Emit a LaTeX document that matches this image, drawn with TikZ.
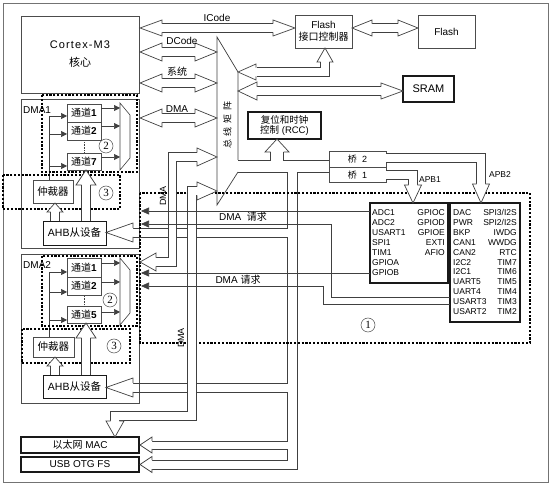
\documentclass[tikz,border=0pt]{standalone}
\usepackage{fontspec}
\setmainfont{Liberation Sans}
\newfontfamily\cjk{Noto Sans CJK SC}
\newfontfamily\numfont{Liberation Serif}
\usetikzlibrary{arrows.meta}
\newcommand{\fsz}[1]{\fontsize{#1}{#1}\selectfont}
% hollow bus head: x, y, angle, length, half width, half band
\newcommand{\bushead}[6]{%
  \begin{scope}[shift={(#1,#2)}, rotate=#3]
    \fill[white] (0,0) -- (-#4,#5) -- (-#4,-#5) -- cycle;
    \draw[wire, line width=0.7pt] (-#4,#6) -- (-#4,#5) -- (0,0) -- (-#4,-#5) -- (-#4,-#6);
  \end{scope}}
\tikzset{
  box/.style={draw=black!70, line width=0.6pt, inner sep=0pt, align=center},
  tbox/.style={box, draw=black!90, line width=1.3pt},
  wire/.style={draw=black!75, line width=0.6pt},
  bus/.style={draw=black!75, line width=0.7pt, double=white, double distance=7.9pt},
  chtip/.style={wire, -{Triangle[length=6pt,width=6pt]}},
  req/.style={wire, -{Triangle[length=8pt,width=7pt]}},
  grp/.style={draw=black, line width=1.1pt, dash pattern=on 2.2pt off 1.6pt},
  num/.style={circle, draw=black!70, line width=0.5pt, inner sep=0pt, minimum size=14pt, font=\numfont\fsz{11}},
  ptxt/.style={inner sep=0pt, font=\fsz{8.5}},
  lbl/.style={inner sep=0pt, font=\fsz{10}},
}
\begin{document}
\begin{tikzpicture}[x=1pt, y=-1pt, line join=miter]
\useasboundingbox (0,0) rectangle (552,486);
\draw[draw=black!55, line width=0.6pt] (3,3) rectangle (548,482);

% core, memories, RCC, bridges
\node[box, minimum width=118, minimum height=77, font=\fsz{11}] (cm3) at (80,54.5)
  {\addfontfeature{LetterSpace=10}Cortex-M3\\[7pt]{\cjk 核心}};
\node[box, minimum width=57, minimum height=33, font=\fsz{10}] (fic) at (323.5,31.5) {Flash\\[2pt]{\cjk 接口控制器}};
\node[box, minimum width=57, minimum height=33, font=\fsz{10}] (flash) at (446.5,31.5) {Flash};
\node[tbox, minimum width=51, minimum height=26, font=\fsz{11}] (sram) at (428.5,89) {SRAM};
\node[tbox, minimum width=73, minimum height=27, font=\fsz{9.5}] (rcc) at (284.5,125.5) {{\cjk 复位和时钟}\\[1pt]{\cjk 控制} (RCC)};
\node[box, minimum width=57, minimum height=15.5, font=\fsz{9}] (br2) at (357.5,159.5) {{\cjk 桥}\ \ 2};
\node[box, minimum width=57, minimum height=15.5, font=\fsz{9}] (br1) at (357.5,175) {{\cjk 桥}\ \ 1};

% peripherals
\node[tbox, minimum width=78, minimum height=80] (apb1p) at (409,243) {};
\node[tbox, minimum width=70, minimum height=119] (apb2p) at (485,262.5) {};
\foreach \t [count=\i] in {ADC1,ADC2,USART1,SPI1,TIM1,GPIOA,GPIOB}
  \node[ptxt, anchor=west] at (372,{203+\i*9.9}) {\t};
\foreach \t [count=\i] in {GPIOC,GPIOD,GPIOE,EXTI,AFIO}
  \node[ptxt, anchor=east] at (445,{203+\i*9.9}) {\t};
\foreach \t [count=\i] in {DAC,PWR,BKP,CAN1,CAN2,I2C2,I2C1,UART5,UART4,USART3,USART2}
  \node[ptxt, anchor=west] at (453,{203+\i*9.85}) {\t};
\foreach \t [count=\i] in {{SPI3/I2S},{SPI2/I2S},IWDG,WWDG,RTC,TIM7,TIM6,TIM5,TIM4,TIM3,TIM2}
  \node[ptxt, anchor=east] at (517,{203+\i*9.85}) {\t};

% DMA1
\node[box, minimum width=118, minimum height=149] (dma1) at (80,173.5) {};
\node[lbl, font=\fsz{10}, anchor=west] at (23,110) {DMA1};
\node[box, minimum width=34, minimum height=18, font=\fsz{10}] (ch11) at (84,113) {{\cjk 通道}\textbf{1}};
\node[box, minimum width=34, minimum height=18, font=\fsz{10}] (ch12) at (84,131) {{\cjk 通道}\textbf{2}};
\node[box, minimum width=34, minimum height=17, font=\fsz{10}] (ch17) at (84,161.5) {{\cjk 通道}\textbf{7}};
\draw[wire, densely dotted] (84,142) -- (84,152);
\draw[wire] (49,116) -- (49,180);
\foreach \y in {116,134,166} \draw[chtip] (49,\y) -- (67,\y);
\foreach \y in {108,126,157} \draw[chtip] (101,\y) -- (120,\y);
\draw[wire] (120,103) -- (130,115) -- (130,158) -- (120,170) -- cycle;
\node[box, minimum width=40, minimum height=23, font=\fsz{10.5}] (arb1) at (53,191.5) {{\cjk 仲裁器}};
\node[tbox, line width=0.9pt, minimum width=63, minimum height=24, font=\fsz{10.5}] (ahb1) at (74.5,233) {AHB{\cjk 从设备}};

% DMA2
\node[box, minimum width=118, minimum height=149] (dma2) at (80,328.5) {};
\node[lbl, font=\fsz{10}, anchor=west] at (23,265) {DMA2};
\node[box, minimum width=34, minimum height=19, font=\fsz{10}] (ch21) at (84,267.5) {{\cjk 通道}\textbf{1}};
\node[box, minimum width=34, minimum height=18, font=\fsz{10}] (ch22) at (84,286) {{\cjk 通道}\textbf{2}};
\node[box, minimum width=34, minimum height=17, font=\fsz{10}] (ch25) at (84,314.5) {{\cjk 通道}\textbf{5}};
\draw[wire, densely dotted] (84,296) -- (84,306);
\draw[wire] (49,272) -- (49,337);
\foreach \y in {272,292,320} \draw[chtip] (49,\y) -- (67,\y);
\foreach \y in {263,282,312} \draw[chtip] (101,\y) -- (120,\y);
\draw[wire] (120,258) -- (130,270) -- (130,313) -- (120,325) -- cycle;
\node[box, minimum width=41, minimum height=20, font=\fsz{10.5}] (arb2) at (53.5,347) {{\cjk 仲裁器}};
\node[tbox, line width=0.9pt, minimum width=63, minimum height=23, font=\fsz{10.5}] (ahb2) at (74.5,386.5) {AHB{\cjk 从设备}};

% Ethernet, USB
\node[tbox, minimum width=118, minimum height=16, font=\fsz{10}] (eth) at (80,445) {{\cjk 以太网} MAC};
\node[tbox, minimum width=118, minimum height=15, font=\fsz{10}] (usb) at (80,464.5) {USB OTG FS};

% bus matrix
\draw[wire, line width=0.7pt] (238,160) -- (238,72) -- (217,37) -- (217,205) -- (238,172);
\node[lbl, rotate=90, font=\cjk\fsz{9}] at (227.5,125) {总\hspace{4pt}线\hspace{4pt}矩\hspace{4pt}阵};

% AHB slave bus
\draw[wire, line width=0.7pt] (238,172) -- (287,172) -- (287,228) -- (132,228);
\draw[wire, line width=0.7pt] (132,237) -- (287,237) -- (287,383) -- (132,383);
\draw[wire, line width=0.7pt] (132,392) -- (287,392) -- (287,441) -- (151,441);
\draw[wire, line width=0.7pt] (151,449) -- (287,449) -- (287,460) -- (151,460);
\draw[wire, line width=0.7pt] (151,469) -- (297,469) -- (297,172) -- (329,172);
\draw[wire, line width=0.7pt] (238,160) -- (270.5,160) -- (270.5,151);
\draw[wire, line width=0.7pt] (283.5,151) -- (283.5,160) -- (329,160);

% groups
\draw[grp] (42,95) rectangle (137,172);
\draw[grp] (3,175) rectangle (120,209);
\draw[grp] (42,256) rectangle (137,326);
\draw[grp] (22,329) rectangle (130,363);
\draw[grp] (140,193) rectangle (530,343);
\node[num] at (106,146) {2};
\node[num] at (106,193) {3};
\node[num] at (110,300) {2};
\node[num] at (114,346) {3};
\node[num] at (368,325) {1};

% buses
\draw[bus] (161.5,28) -- (273.5,28);
\draw[bus] (161.5,52) -- (195.5,52);
\draw[bus] (161.5,83) -- (195.5,83);
\draw[bus] (161.5,118) -- (195.5,118);
\draw[bus] (197.5,157) -- (172.5,157) -- (172.5,262) -- (155.5,262);
\draw[bus] (197.5,191) -- (192,191) -- (192,416) -- (115,416) -- (115,421.5);
\draw[bus] (256.5,72) -- (325,72) -- (325,61.5);
\draw[bus] (256.5,91) -- (381.5,91);
\draw[bus] (371.5,28) -- (398.5,28);
\draw[bus] (386,175) -- (413,175) -- (413,185.5);
\draw[bus] (386,158) -- (481,158) -- (481,184.5);
\draw[bus] (55,221) -- (55,211.5);
\draw[bus] (86,221) -- (86,184.5);
\draw[bus] (55,375) -- (55,365.5);
\draw[bus] (86,375) -- (86,337.5);

\bushead{140}{28}{180}{22}{8}{4.3}
\bushead{295}{28}{0}{22}{8}{4.3}
\bushead{140}{52}{180}{22}{9}{4.3}
\bushead{217}{52}{0}{22}{9}{4.3}
\bushead{140}{83}{180}{22}{9}{4.3}
\bushead{217}{83}{0}{22}{9}{4.3}
\bushead{140}{118}{180}{22}{9}{4.3}
\bushead{217}{118}{0}{22}{9}{4.3}
\bushead{217}{157}{0}{20}{9}{4.3}
\bushead{140}{262}{180}{16}{9}{4.3}
\bushead{217}{191}{0}{20}{9}{4.3}
\bushead{115}{437}{-90}{16}{9}{4.3}
\bushead{238}{72}{180}{18}{8}{4.3}
\bushead{325}{48}{90}{14}{8}{4.3}
\bushead{238}{91}{180}{19}{9}{4.3}
\bushead{403}{91}{0}{22}{8}{4.3}
\bushead{352}{28}{180}{20}{8}{4.3}
\bushead{418}{28}{0}{20}{8}{4.3}
\bushead{277}{139}{90}{13}{12}{6.5}
\bushead{413}{203}{-90}{18}{8.5}{4.3}
\bushead{481}{203}{-90}{19}{8.5}{4.3}
\bushead{106}{232.5}{180}{27}{9.5}{4.5}
\bushead{106}{387.5}{180}{27}{9.5}{4.5}
\bushead{140}{445}{180}{12}{8}{4}
\bushead{140}{464.5}{180}{12}{8}{4.5}
\bushead{55}{203}{90}{9}{8}{4.3}
\bushead{86}{170}{90}{15}{10}{4.3}
\bushead{55}{357}{90}{9}{8}{4.3}
\bushead{86}{323}{90}{15}{10}{4.3}

% DMA requests
\draw[req] (370,211) -- (141,211);
\draw[req] (450,297) -- (331,297) -- (331,224) -- (141,224);
\draw[req] (370,273) -- (141,273);
\draw[req] (450,304) -- (323,304) -- (323,286) -- (141,286);

% labels
\node[lbl] at (217,18) {ICode};
\node[lbl] at (182,41) {DCode};
\node[lbl, font=\cjk\fsz{10}] at (177,72) {系统};
\node[lbl] at (177,109) {DMA};
\node[lbl, rotate=90, font=\fsz{9}] at (163,196) {DMA};
\node[lbl, rotate=90, font=\fsz{9}] at (181,338) {DMA};
\node[lbl] at (243,217) {DMA\ \ {\cjk 请求}};
\node[lbl] at (238,280) {DMA\ {\cjk 请求}};
\node[lbl, font=\fsz{8.5}] at (430,180) {APB1};
\node[lbl, font=\fsz{8.5}] at (500,175) {APB2};
\end{tikzpicture}
\end{document}
